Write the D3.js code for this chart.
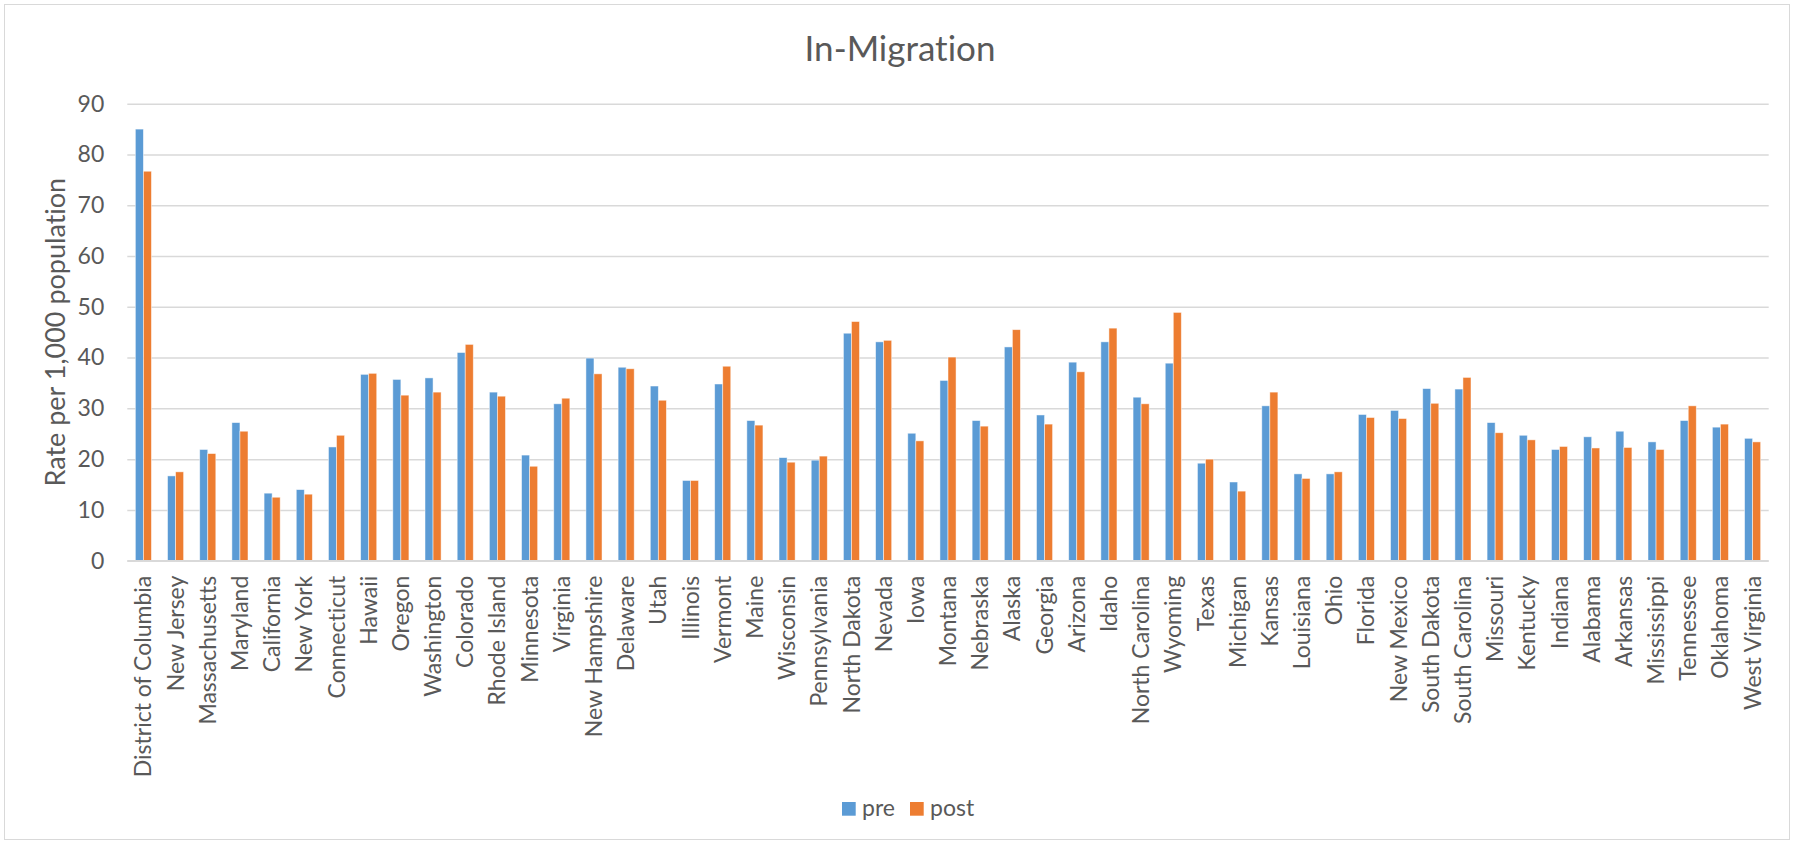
<!DOCTYPE html>
<html>
<head>
<meta charset="utf-8">
<script src="https://cdn.jsdelivr.net/npm/d3@7"></script>
<style>
  html, body { margin: 0; padding: 0; background: #fff; }
  svg { display: block; }
  text { font-family: Lato, "Open Sans", sans-serif; fill: #595959; font-variant-ligatures: none; }
</style>
</head>
<body>
<script>
// In-migration rate per 1,000 population, by state, before and after
const states = ["District of Columbia","New Jersey","Massachusetts","Maryland","California","New York","Connecticut","Hawaii","Oregon","Washington","Colorado","Rhode Island","Minnesota","Virginia","New Hampshire","Delaware","Utah","Illinois","Vermont","Maine","Wisconsin","Pennsylvania","North Dakota","Nevada","Iowa","Montana","Nebraska","Alaska","Georgia","Arizona","Idaho","North Carolina","Wyoming","Texas","Michigan","Kansas","Louisiana","Ohio","Florida","New Mexico","South Dakota","South Carolina","Missouri","Kentucky","Indiana","Alabama","Arkansas","Mississippi","Tennessee","Oklahoma","West Virginia"];

const pre = [85.0,16.7,21.9,27.2,13.3,14.0,22.4,36.7,35.7,36.0,41.0,33.2,20.8,30.9,39.9,38.1,34.4,15.8,34.8,27.6,20.3,19.8,44.8,43.1,25.1,35.5,27.6,42.1,28.7,39.1,43.1,32.2,38.9,19.2,15.5,30.5,17.1,17.1,28.8,29.6,33.9,33.8,27.2,24.7,21.9,24.4,25.5,23.4,27.6,26.3,24.1];

const post = [76.7,17.5,21.1,25.5,12.5,13.1,24.7,36.9,32.6,33.2,42.6,32.4,18.6,32.0,36.8,37.8,31.6,15.8,38.3,26.7,19.4,20.6,47.1,43.4,23.6,40.1,26.5,45.5,26.9,37.2,45.8,30.9,48.9,20.0,13.7,33.2,16.2,17.5,28.2,28.0,31.0,36.1,25.2,23.8,22.5,22.2,22.3,21.9,30.5,26.9,23.4];

const seriesNames = ["pre", "post"];
const seriesColors = ["#5B9BD5", "#ED7D31"];
const yTicks = [0, 10, 20, 30, 40, 50, 60, 70, 80, 90];

const chartTitle = "In-Migration";
const yTitle = "Rate per 1,000 population";

const W = 1796, H = 845;
const plot = { left: 127.3, right: 1768.7, top: 103.7, bottom: 560.7 };

const rows = states.map((s, i) => ({ state: s, values: [pre[i], post[i]] }));

const svg = d3.select("body").append("svg")
  .attr("width", W).attr("height", H);

svg.append("rect").attr("width", W).attr("height", H).attr("fill", "#fff");

// outer chart frame
svg.append("rect")
  .attr("x", 4.5).attr("y", 4.5)
  .attr("width", 1785).attr("height", 835)
  .attr("fill", "none").attr("stroke", "#D9D9D9").attr("stroke-width", 1);

const x = d3.scaleBand()
  .domain(states)
  .range([plot.left, plot.right])
  .paddingInner(0.5)
  .paddingOuter(0.25);

const xSub = d3.scaleBand()
  .domain(seriesNames)
  .range([0, x.bandwidth()])
  .padding(0);

const y = d3.scaleLinear()
  .domain([0, 90])
  .range([plot.bottom, plot.top]);

// gridlines + y tick labels
const yAxis = d3.axisLeft(y)
  .tickValues(yTicks)
  .tickSize(-(plot.right - plot.left))
  .tickPadding(23);

const gy = svg.append("g")
  .attr("transform", `translate(${plot.left},0)`)
  .call(yAxis);
gy.select(".domain").remove();
gy.selectAll(".tick line").attr("stroke", "#D9D9D9").attr("stroke-width", 1.5);
gy.selectAll(".tick text")
  .style("font-size", "23px")
  .style("font-family", "Lato, 'Open Sans', sans-serif")
  .attr("fill", "#595959");

// bars
const groups = svg.append("g").selectAll("g")
  .data(rows)
  .join("g")
  .attr("transform", d => `translate(${x(d.state)},0)`);

groups.selectAll("rect")
  .data(d => d.values.map((v, k) => ({ key: seriesNames[k], value: v, k })))
  .join("rect")
  .attr("x", d => xSub(d.key))
  .attr("y", d => y(d.value))
  .attr("width", xSub.bandwidth())
  .attr("height", d => y(0) - y(d.value))
  .attr("fill", d => seriesColors[d.k])
  .attr("stroke", "#fff")
  .attr("stroke-opacity", 0.6)
  .attr("stroke-width", 0.8);

// category axis
const xAxis = d3.axisBottom(x).tickSize(0).tickPadding(0);
const gx = svg.append("g")
  .attr("transform", `translate(0,${plot.bottom})`)
  .call(xAxis);
gx.select(".domain")
  .attr("stroke", "#D9D9D9").attr("stroke-width", 1.5)
  .attr("d", `M${plot.left},0H${plot.right}`);
gx.selectAll(".tick text")
  .style("font-size", "23px")
  .style("font-family", "Lato, 'Open Sans', sans-serif")
  .attr("fill", "#595959")
  .attr("text-anchor", "end")
  .attr("transform", "rotate(-90)")
  .attr("x", -15)
  .attr("y", 0)
  .attr("dy", "0.35em");

// chart title
svg.append("text")
  .attr("x", 900).attr("y", 60.5)
  .attr("text-anchor", "middle")
  .style("font-size", "35px")
  .text(chartTitle);

// y-axis title
svg.append("text")
  .attr("transform", `translate(65,${(plot.top + plot.bottom) / 2}) rotate(-90)`)
  .attr("text-anchor", "middle")
  .style("font-size", "27px")
  .text(yTitle);

// legend
const legend = svg.append("g");
const legendX = [842, 910];
seriesNames.forEach((name, i) => {
  legend.append("rect")
    .attr("x", legendX[i]).attr("y", 802)
    .attr("width", 13.7).attr("height", 13.7)
    .attr("fill", seriesColors[i]);
  legend.append("text")
    .attr("x", legendX[i] + 20).attr("y", 815.5)
    .style("font-size", "23px")
    .text(name);
});
</script>
</body>
</html>
